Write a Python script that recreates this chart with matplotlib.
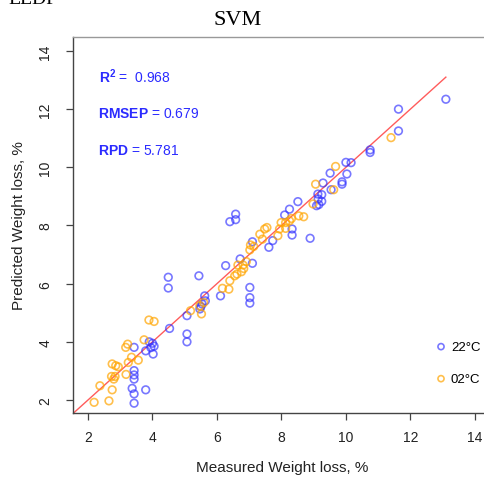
import numpy as np
import matplotlib.pyplot as plt

# measured vs predicted weight loss, 22 °C storage
meas_22 = [3.43, 3.43, 3.37, 3.79, 3.43, 3.43, 3.43, 3.43, 3.79, 3.90, 4.00, 4.05,
           3.95, 4.02, 4.53, 4.49, 4.49, 5.07, 5.07, 5.07, 5.44, 5.47, 5.50, 5.54,
           5.64, 5.62, 6.11, 6.27, 6.40, 6.58, 6.58, 6.72, 7.02, 7.02, 7.02, 7.10,
           7.10, 7.61, 7.73, 8.10, 8.25, 8.33, 8.33, 8.51, 8.89, 9.13, 9.25, 9.14,
           9.25, 9.09, 9.16, 9.29, 9.51, 9.54, 9.88, 9.88, 10.03, 10.00, 10.16,
           10.75, 10.75, 11.63, 11.63, 13.10]
pred_22 = [1.89, 2.21, 2.40, 2.35, 2.72, 2.86, 3.01, 3.81, 3.69, 4.00, 3.95, 3.85,
           3.80, 3.58, 4.46, 5.85, 6.22, 4.00, 4.27, 4.90, 6.27, 5.13, 5.21, 5.30,
           5.41, 5.58, 5.58, 6.62, 8.13, 8.39, 8.20, 6.85, 5.87, 5.52, 5.33, 6.70,
           7.44, 7.25, 7.48, 8.36, 8.56, 7.88, 7.67, 8.82, 7.56, 9.08, 9.06, 8.91,
           8.83, 8.68, 8.72, 9.46, 9.80, 9.23, 9.50, 9.42, 9.77, 10.17, 10.16,
           10.60, 10.51, 12.00, 11.25, 12.34]

# 02 °C storage
meas_02 = [2.19, 2.65, 2.37, 2.75, 2.73, 2.84, 2.80, 2.75, 2.86, 2.94, 3.18, 3.25,
           3.35, 3.56, 3.17, 3.23, 3.74, 3.89, 4.05, 5.18, 5.47, 5.52, 5.59, 6.17,
           6.37, 6.40, 6.55, 6.62, 6.76, 6.83, 6.81, 6.65, 6.91, 7.02, 7.04, 7.14,
           7.33, 7.41, 7.48, 7.55, 7.89, 7.94, 7.99, 8.13, 8.13, 8.25, 8.31, 8.54,
           8.69, 8.98, 9.06, 9.62, 9.68, 11.40]
pred_02 = [1.92, 1.97, 2.49, 2.35, 2.81, 2.81, 2.72, 3.24, 3.18, 3.14, 2.88, 3.29,
           3.47, 3.37, 3.81, 3.92, 4.07, 4.75, 4.70, 5.07, 5.24, 4.96, 5.35, 5.84,
           5.81, 6.10, 6.27, 6.33, 6.41, 6.52, 6.64, 6.64, 6.76, 7.16, 7.33, 7.28,
           7.70, 7.53, 7.88, 7.93, 7.65, 7.88, 8.10, 8.10, 7.90, 8.16, 8.24, 8.33,
           8.30, 8.74, 9.42, 9.23, 10.03, 11.02]

labels = ["22°C", "02°C"]
stats = {"R2": "0.968", "RMSEP": "0.679", "RPD": "5.781"}
xticks = [2, 4, 6, 8, 10, 12, 14]
yticks = [2, 4, 6, 8, 10, 12, 14]

plt.rcParams['font.family'] = ['Liberation Sans', 'DejaVu Sans']
plt.rcParams['mathtext.fontset'] = 'custom'
plt.rcParams['mathtext.rm'] = 'Liberation Sans'
plt.rcParams['mathtext.bf'] = 'Liberation Sans:bold'

fig = plt.figure(figsize=(4.85, 4.85), dpi=100)
ax = fig.add_axes([73/485, 1 - 414/485, 418/485, 376/485])

blue = "#3030ff"
orange = "#ffa500"
h1 = ax.scatter(meas_22, pred_22, s=30, facecolors="none", edgecolors=blue,
                linewidths=1.2, alpha=0.65, label=labels[0], zorder=3)
h2 = ax.scatter(meas_02, pred_02, s=30, facecolors="none", edgecolors=orange,
                linewidths=1.2, alpha=0.7, label=labels[1], zorder=3)

# 1:1 fitted line up to the largest measured value
xl = np.array([0, max(meas_22 + meas_02)])
ax.plot(xl, xl, color="#ff3333", lw=1.0, alpha=0.8, zorder=2)

ax.set_xlim(1.535, 14.5)
ax.set_ylim(1.553, 14.48)
ax.set_xticks(xticks)
ax.set_yticks(yticks)
ax.tick_params(axis="both", direction="out", length=5, width=0.9,
               color="#444444", labelsize=10, labelcolor="#222222")
ax.tick_params(axis="x", pad=7)
ax.tick_params(axis="y", pad=10)
for lab in ax.get_yticklabels():
    lab.set_rotation(90)
    lab.set_va("center")

for s in ["left", "bottom"]:
    ax.spines[s].set_color("#444444")
for s in ["top", "right"]:
    ax.spines[s].set_color("#999999")
for s in ax.spines.values():
    s.set_linewidth(1.0)

ax.set_xlabel("Measured Weight loss, %", fontsize=11, color="#222222")
ax.set_ylabel("Predicted Weight loss, %", fontsize=11, color="#222222")
ax.xaxis.set_label_coords(0.5, -0.125)
ax.yaxis.set_label_coords(-0.112, 0.5)

tc = "#2b2bff"
ax.text(99/485, 1 - 83/485, r"$\mathbf{R^2}$ =  " + stats["R2"], transform=fig.transFigure,
        fontsize=10, color=tc, va="baseline")
ax.text(98/485, 1 - 118/485, r"$\mathbf{RMSEP}$ = " + stats["RMSEP"], transform=fig.transFigure,
        fontsize=10, color=tc, va="baseline")
ax.text(98/485, 1 - 155/485, r"$\mathbf{RPD}$ = " + stats["RPD"], transform=fig.transFigure,
        fontsize=10, color=tc, va="baseline")

ax.legend(handles=[h1, h2], loc="center left", bbox_to_anchor=(0.852, 0.133),
          frameon=False, scatterpoints=1, markerscale=0.8, handlelength=1.0,
          handletextpad=0.25, labelspacing=1.5, fontsize=9.5, borderaxespad=0)

fig.text(238/485, 1 - 25/485, "SVM", ha="center", va="baseline",
         fontsize=16, family="Liberation Serif")
fig.text(8/485, 1 - 4/485, "EEDF", ha="left", va="baseline",
         fontsize=14, family="Liberation Serif")

fig.savefig("out.png", dpi=100)
